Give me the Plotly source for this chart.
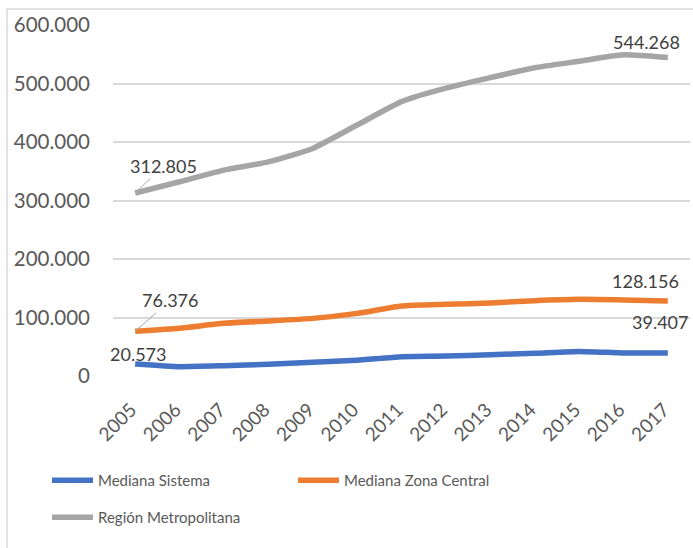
import plotly.graph_objects as go

years = ["2005", "2006", "2007", "2008", "2009", "2010", "2011", "2012", "2013", "2014", "2015", "2016", "2017"]
mediana_sistema = [20573, 16000, 17600, 20000, 23400, 27000, 33000, 34000, 36500, 38700, 42000, 39300, 39407]
mediana_zona_central = [76376, 81600, 90000, 94000, 98500, 107000, 119600, 122500, 124800, 128700, 131000, 130000, 128156]
region_metropolitana = [312805, 332000, 352000, 366000, 389000, 429000, 469000, 492000, 510000, 527000, 538000, 549000, 544268]
y_ticks = [0, 100000, 200000, 300000, 400000, 500000, 600000]

names = ["Mediana Sistema", "Mediana Zona Central", "Región Metropolitana"]
colors = ["#4472C4", "#ED7D31", "#A5A5A5"]
series = [mediana_sistema, mediana_zona_central, region_metropolitana]
legends = ["legend", "legend", "legend2"]

FONT = "Lato"
fig = go.Figure()
for name, col, vals, lg in zip(names, colors, series, legends):
    fig.add_trace(go.Scatter(
        x=years, y=vals, name=name, mode="lines",
        line=dict(color=col, width=5.5, shape="spline", smoothing=0.5),
        legend=lg, hoverinfo="skip",
    ))

def fmt(v):
    return f"{v:,}".replace(",", ".")

first, last = 0, len(years) - 1
lab_font = dict(family=FONT, size=18, color="#404040")
ann = []
# first-point labels
ann.append(dict(x=first, y=region_metropolitana[first], text=fmt(region_metropolitana[first]), showarrow=True,
                ax=28, ay=-27, arrowhead=0, arrowwidth=1, arrowcolor="#A6A6A6", font=lab_font))
ann.append(dict(x=first, y=mediana_zona_central[first], text=fmt(mediana_zona_central[first]), showarrow=True,
                ax=35, ay=-31, arrowhead=0, arrowwidth=1, arrowcolor="#A6A6A6", font=lab_font))
ann.append(dict(x=first, y=mediana_sistema[first], text=fmt(mediana_sistema[first]), showarrow=False,
                xshift=3, yshift=10, font=lab_font))
# last-point labels
ann.append(dict(x=last, y=region_metropolitana[last], text=fmt(region_metropolitana[last]), showarrow=False,
                xshift=-21, yshift=16, font=lab_font))
ann.append(dict(x=last, y=mediana_zona_central[last], text=fmt(mediana_zona_central[last]), showarrow=False,
                xshift=-22, yshift=20, font=lab_font))
ann.append(dict(x=last, y=mediana_sistema[last], text=fmt(mediana_sistema[last]), showarrow=False,
                xshift=-8, yshift=31, font=lab_font))
for a in ann:
    a["xref"] = "x"
    a["yref"] = "y"

# chart-area border (left and top edges visible)
L, R, T, B = 113, 3, 25, 172
W, H = 693, 548
pw, ph = W - L - R, H - T - B
bx = (7 - L) / pw
by = 1 + (T - 9) / ph
shapes = [
    dict(type="line", xref="paper", yref="paper", x0=bx, x1=bx, y0=by, y1=-1.0,
         line=dict(color="#D9D9D9", width=1.5)),
    dict(type="line", xref="paper", yref="paper", x0=bx, x1=1.2, y0=by, y1=by,
         line=dict(color="#D9D9D9", width=1.5)),
]

fig.update_layout(
    width=W, height=H,
    margin=dict(l=L, r=R, t=T, b=B, autoexpand=False),
    paper_bgcolor="white", plot_bgcolor="white",
    separators=",.",
    font=dict(family=FONT, color="#595959"),
    annotations=ann, shapes=shapes,
    showlegend=True,
    legend=dict(orientation="h", x=(47 - L) / pw, y=(376 - 464) / ph,
                xanchor="left", yanchor="top", entrywidth=190, itemwidth=41,
                font=dict(family=FONT, size=15, color="#595959"),
                bgcolor="rgba(0,0,0,0)"),
    legend2=dict(orientation="h", x=(47 - L) / pw, y=(376 - 501) / ph,
                 xanchor="left", yanchor="top", itemwidth=41,
                 font=dict(family=FONT, size=15, color="#595959"),
                 bgcolor="rgba(0,0,0,0)"),
)
fig.update_xaxes(type="category", range=[-0.5, 12.5], tickangle=-45,
                 showgrid=False, showline=False, zeroline=False, ticks="",
                 tickfont=dict(family=FONT, size=19, color="#595959"),
                 ticklabelstandoff=18, ticklabelshift=-4)
fig.update_yaxes(range=[0, 600000], tickvals=y_ticks, tickformat=",.0f",
                 showgrid=True, gridcolor="#D9D9D9", gridwidth=1.5,
                 zeroline=False, showline=False, ticks="",
                 tickfont=dict(family=FONT, size=20.5, color="#595959"),
                 ticklabelstandoff=22)

fig.write_html("out.html", config={"displayModeBar": False},
               post_script="document.body.style.margin='0';")
